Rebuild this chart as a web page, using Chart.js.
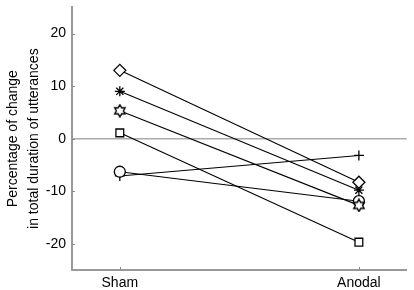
<!DOCTYPE html>
<html>
<head>
<meta charset="utf-8">
<script src="https://cdn.jsdelivr.net/npm/chart.js@4"></script>
<style>
  html, body { margin: 0; padding: 0; background: #fff; }
  #wrap { width: 414px; height: 290px; }
</style>
</head>
<body>
<div id="wrap"><canvas id="chart" width="414" height="290"></canvas></div>
<script>
// conditions on the x axis
const conditions = ['Sham', 'Anodal'];
// one participant per series: [sham, anodal]
const diamondVals  = [13.0, -8.3];
const asteriskVals = [9.0, -9.8];
const hexVals      = [5.3, -12.7];
const squareVals   = [1.1, -19.7];
const circleVals   = [-6.3, -11.9];
const plusVals     = [-7.1, -3.2];
const yTicks = [-20, -10, 0, 10, 20];

// six pointed star (hexagram) marker
function hexagram() {
    const c = document.createElement('canvas');
    c.width = 14; c.height = 14;
    const g = c.getContext('2d');
    g.beginPath();
    for (let i = 0; i < 12; i++) {
        const r = i % 2 === 0 ? 6 : 3.5;
        const a = -Math.PI / 2 + i * Math.PI / 6;
        const px = 7 + r * Math.cos(a), py = 7 + r * Math.sin(a);
        if (i === 0) g.moveTo(px, py); else g.lineTo(px, py);
    }
    g.closePath();
    g.fillStyle = '#fff';
    g.fill();
    g.strokeStyle = '#000';
    g.lineWidth = 1.4;
    g.stroke();
    return c;
}

function series(vals, style, radius) {
    return {
        data: vals.map((v, i) => ({ x: i + 1, y: v })),
        showLine: true,
        borderColor: '#000',
        borderWidth: 1.1,
        pointStyle: style,
        pointRadius: radius,
        pointBorderColor: '#000',
        pointBackgroundColor: '#fff',
        pointBorderWidth: 1.3
    };
}

// small tick marks pointing into the plot
const innerTicks = {
    id: 'innerTicks',
    afterDraw(chart) {
        const { ctx, chartArea, scales } = chart;
        ctx.save();
        ctx.strokeStyle = '#888';
        ctx.lineWidth = 1;
        ctx.beginPath();
        yTicks.forEach(t => {
            const y = Math.round(scales.y.getPixelForValue(t)) + 0.5;
            ctx.moveTo(chartArea.left, y);
            ctx.lineTo(chartArea.left + 3, y);
        });
        [1, 2].forEach(t => {
            const x = Math.round(scales.x.getPixelForValue(t)) + 0.5;
            ctx.moveTo(x, chartArea.bottom);
            ctx.lineTo(x, chartArea.bottom - 3);
        });
        ctx.stroke();
        ctx.restore();
    }
};

const font = { family: "'Liberation Sans', Arial, Helvetica, sans-serif", size: 14 };

new Chart(document.getElementById('chart'), {
    type: 'scatter',
    data: {
        datasets: [
            series(diamondVals, 'rectRot', 6),
            series(asteriskVals, 'star', 5),
            series(hexVals, hexagram(), 5),
            series(squareVals, 'rect', 5.5),
            series(circleVals, 'circle', 5.5),
            series(plusVals, 'cross', 5)
        ]
    },
    options: {
        responsive: false,
        animation: false,
        layout: { padding: { top: 3, right: 6, left: 0, bottom: 0 } },
        plugins: {
            legend: { display: false },
            tooltip: { enabled: false }
        },
        scales: {
            x: {
                type: 'linear',
                min: 0.8,
                max: 2.2,
                afterBuildTicks: s => { s.ticks = [{ value: 1 }, { value: 2 }]; },
                afterFit: s => { s.height = 20; s.paddingLeft = 0; s.paddingRight = 0; },
                ticks: {
                    color: '#000',
                    font: font,
                    padding: 5,
                    callback: v => conditions[v - 1]
                },
                grid: { display: false, drawTicks: false },
                border: { color: '#999', width: 2 }
            },
            y: {
                min: -25,
                max: 25,
                afterBuildTicks: s => { s.ticks = yTicks.map(v => ({ value: v })); },
                afterFit: s => { s.width = 72; s.paddingTop = 0; s.paddingBottom = 0; },
                ticks: { color: '#000', font: font, padding: 6 },
                grid: {
                    drawTicks: false,
                    color: c => c.tick && c.tick.value === 0 ? '#aaa' : 'rgba(0,0,0,0)',
                    lineWidth: 1.5
                },
                border: { color: '#999', width: 2 },
                title: {
                    display: true,
                    text: ['Percentage of change', 'in total duration of utterances'],
                    color: '#000',
                    font: { family: font.family, size: 14, lineHeight: 1.5 },
                    padding: { top: 3, bottom: 0 }
                }
            }
        }
    },
    plugins: [innerTicks]
});
</script>
</body>
</html>
